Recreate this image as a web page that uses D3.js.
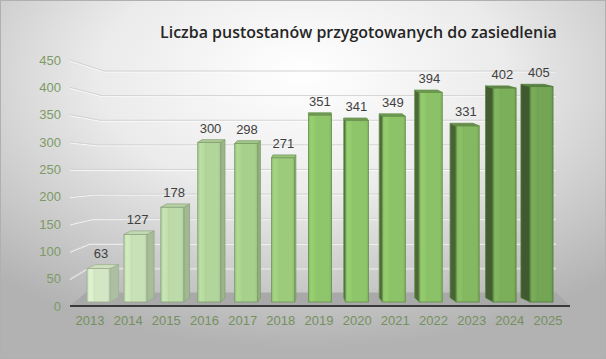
<!DOCTYPE html>
<html><head><meta charset="utf-8">
<script src="https://cdn.jsdelivr.net/npm/d3@7"></script>
<style>html,body{margin:0;padding:0;background:#fff}svg{display:block}</style>
</head><body>
<script>
const years = ["2013","2014","2015","2016","2017","2018","2019","2020","2021","2022","2023","2024","2025"];
const values = [63,127,178,300,298,271,351,341,349,394,331,402,405];
const yTicks = [0,50,100,150,200,250,300,350,400,450];
const title = "Liczba pustostanów przygotowanych do zasiedlenia";

const W = 606, H = 359;
const svg = d3.select("body").append("svg").attr("width", W).attr("height", H);
const defs = svg.append("defs");

// background radial gradient
const bg = defs.append("radialGradient").attr("id","bg").attr("cx","50%").attr("cy","22%").attr("r","75%")
  .attr("fx","50%").attr("fy","20%");
bg.append("stop").attr("offset","0%").attr("stop-color","#ffffff");
bg.append("stop").attr("offset","45%").attr("stop-color","#ebebeb");
bg.append("stop").attr("offset","100%").attr("stop-color","#b2b2b2");
svg.append("rect").attr("width",W).attr("height",H).attr("fill","url(#bg)");
svg.append("rect").attr("x",0.5).attr("y",0.5).attr("width",W-1).attr("height",H-1)
  .attr("fill","none").attr("stroke","#b0b0b0");

// scales
const xBar = d3.scaleBand().domain(years).range([87,553]).paddingInner(0.377).paddingOuter(0);
const xLab = d3.scalePoint().domain(years).range([90,548]);
const yFront = d3.scaleLinear().domain([0,450]).range([302,62.6]);
const yLabel = d3.scaleLinear().domain([0,450]).range([306,60]);
const yBack = d3.scaleLinear().domain([0,450]).range([292.5,71]);
const xBackLeft = d3.scaleLinear().domain([0,450]).range([86,104]);
const colorScale = d3.scaleLinear().domain([0,3,6,9,12])
  .range(["#d3e7c5","#b2d59b","#8fc66b","#8cc267","#73a554"]);

// floor
const floorBackRight = 556;
svg.append("polygon")
  .attr("points",[[70,yLabel(0)],[570,yLabel(0)],[floorBackRight,yBack(0)],[xBackLeft(0),yBack(0)]].join(" "))
  .attr("fill","#a9a9a9");

// gridlines (3D style: slanted segment + back wall line)
const grid = svg.append("g");
yTicks.filter(t=>t>0).forEach(t=>{
  const pts = [[70,yLabel(t)],[xBackLeft(t),yBack(t)],[floorBackRight,yBack(t)]];
  grid.append("polyline").attr("points",pts.map(p=>[p[0],p[1]+1]).join(" "))
    .attr("fill","none").attr("stroke","#ffffff").attr("stroke-width",1).attr("opacity",0.8);
  grid.append("polyline").attr("points",pts.join(" "))
    .attr("fill","none").attr("stroke","#d2d2d2").attr("stroke-width",1);
});

// front edge of floor
svg.append("line").attr("x1",70).attr("x2",570).attr("y1",yLabel(0)).attr("y2",yLabel(0))
  .attr("stroke","#3a3a3a").attr("stroke-width",2);

// y labels
svg.append("g").selectAll("text").data(yTicks).join("text")
  .attr("x",61).attr("y",d=>yLabel(d)+4.5).attr("text-anchor","end")
  .attr("font-family","Liberation Sans, Arial, sans-serif").attr("font-size",13)
  .attr("fill","#7d9a65").text(d=>d);

// bars
const vanishX = 315;
const bw = xBar.bandwidth();
const bars = svg.append("g");
years.forEach((yr,i)=>{
  const v = values[i];
  const x0 = xBar(yr), x1 = x0 + bw, cx = (x0+x1)/2;
  const yt = yFront(v), yb = yFront(0);
  const dx = (vanishX - cx)*0.04;
  const dyT = -(2 + (yt-60)*0.009);
  const dyB = -(2 + (yb-60)*0.009);
  const base = d3.color(colorScale(i));
  const gid = "g"+i;
  const lg = defs.append("linearGradient").attr("id",gid).attr("x1","0%").attr("x2","100%");
  lg.append("stop").attr("offset","0%").attr("stop-color",base.darker(0.15));
  lg.append("stop").attr("offset","12%").attr("stop-color",base.brighter(0.15));
  lg.append("stop").attr("offset","30%").attr("stop-color",base.brighter(0.05));
  lg.append("stop").attr("offset","33%").attr("stop-color",base.darker(0.08));
  lg.append("stop").attr("offset","35%").attr("stop-color",base);
  lg.append("stop").attr("offset","88%").attr("stop-color",base);
  lg.append("stop").attr("offset","100%").attr("stop-color",base.darker(0.25));
  const stroke = base.darker(0.8);
  const g = bars.append("g");
  // side face
  let side;
  if (dx > 0) {
    side = [[x1,yt],[x1+dx,yt+dyT],[x1+dx,yb+dyB],[x1,yb]];
  } else {
    side = [[x0,yt],[x0+dx,yt+dyT],[x0+dx,yb+dyB],[x0,yb]];
  }
  const sideCol = dx > 0 ? d3.color(d3.interpolateRgb(base,"#7f8f75")(0.45)) : base.darker(1.7);
  if (Math.abs(dx) > 0.6) {
    g.append("polygon").attr("points",side.join(" ")).attr("fill",sideCol)
      .attr("stroke",stroke).attr("stroke-width",0.8).attr("stroke-linejoin","round");
  }
  // top face
  const top = [[x0,yt],[x1,yt],[x1+dx,yt+dyT],[x0+dx,yt+dyT]];
  const topCol = dx > 0 ? base.darker(0.08) : base.darker(0.7);
  g.append("polygon").attr("points",top.join(" ")).attr("fill",topCol)
    .attr("stroke",stroke).attr("stroke-width",0.8).attr("stroke-linejoin","round");
  // front face
  g.append("rect").attr("x",x0).attr("y",yt).attr("width",bw).attr("height",yb-yt)
    .attr("fill","url(#"+gid+")").attr("stroke",stroke).attr("stroke-width",0.9);
  // data label
  svg.append("text").attr("x",cx + dx*0.3).attr("y",yt + dyT - 7)
    .attr("text-anchor","middle").attr("font-family","Liberation Sans, Arial, sans-serif")
    .attr("font-size",13).attr("fill","#404040").text(v);
});

// x labels
svg.append("g").selectAll("text").data(years).join("text")
  .attr("x",d=>xLab(d)).attr("y",325).attr("text-anchor","middle")
  .attr("font-family","Liberation Sans, Arial, sans-serif").attr("font-size",13)
  .attr("fill","#74905f").text(d=>d);

// title
const t = svg.append("text").attr("x",160).attr("y",38)
  .attr("font-family","Open Sans, Noto Sans, sans-serif").attr("font-weight",600)
  .attr("font-size",18).attr("fill","#262626").text(title);
const len = t.node().getComputedTextLength();
t.attr("font-size", 18*397/len);
</script>
</body></html>
